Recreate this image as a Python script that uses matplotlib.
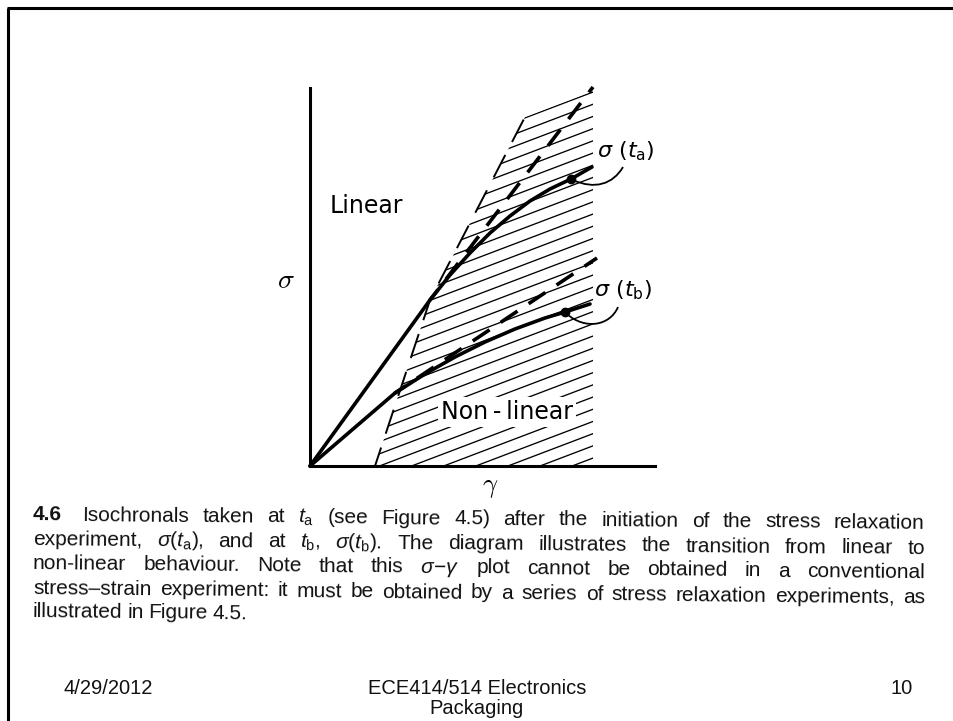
import numpy as np
import matplotlib
matplotlib.use('Agg')
import matplotlib.pyplot as plt
from matplotlib.patches import Polygon, PathPatch
from matplotlib.path import Path

# isochronal at t_a : linear part, extrapolated (dashed) and real curve
lin_a_x = [0, 120]
lin_a_y = [0, 166]
dash_a_x = [120, 283]
dash_a_y = [166, 379]
curve_a_x = [120, 140, 160, 180, 200, 220, 240, 261, 282]
curve_a_y = [166, 191, 213, 233, 250, 265, 277, 287, 299]
dot_a = (261, 287)

# isochronal at t_b
lin_b_x = [0, 85]
lin_b_y = [0, 73]
dash_b_x = [85, 287]
dash_b_y = [73, 208]
curve_b_x = [85, 115, 145, 175, 205, 235, 255, 280]
curve_b_y = [73, 92, 109, 124, 137, 148, 154, 162]
dot_b = (255, 154)

# hatched non-linear zone (left edge, top, right edge)
zone_x = [65, 120, 215, 283, 283]
zone_y = [0, 166, 349, 375, 0]

caption_lines = [
    ["4.6", "Isochronals", "taken", "at", r"$t_{\rm a}$", "(see", "Figure", "4.5)",
     "after", "the", "initiation", "of", "the", "stress", "relaxation"],
    ["experiment,", r"$\sigma(t_{\rm a})$,", "and", "at", r"$t_{\rm b}$,",
     r"$\sigma(t_{\rm b})$.", "The", "diagram", "illustrates", "the", "transition",
     "from", "linear", "to"],
    ["non-linear", "behaviour.", "Note", "that", "this", r"$\sigma\!-\!\gamma$", "plot",
     "cannot", "be", "obtained", "in", "a", "conventional"],
    ["stress\u2013strain", "experiment:", "it", "must", "be", "obtained", "by", "a",
     "series", "of", "stress", "relaxation", "experiments,", "as"],
    ["illustrated", "in", "Figure", "4.5."],
]
caption_base = [520, 545, 569, 594, 617]

cap_font, cap_size = 'Liberation Sans', 15

plt.rcParams['mathtext.fontset'] = 'custom'
plt.rcParams['mathtext.rm'] = cap_font
plt.rcParams['mathtext.it'] = cap_font + ':italic'
plt.rcParams['mathtext.bf'] = cap_font + ':bold'

fig = plt.figure(figsize=(9.54, 7.21), dpi=100, facecolor='white')

# page layer in pixel units for the frame, caption and footer
page = fig.add_axes([0, 0, 1, 1])
page.set_xlim(0, 954)
page.set_ylim(721, 0)
page.set_axis_off()
page.plot([7, 954], [8, 8], color='k', lw=2.2, solid_capstyle='butt')
page.plot([8, 8], [8, 721], color='k', lw=2.2, solid_capstyle='butt')

foot = dict(family='Liberation Sans', fontsize=14.5, color='#111111', va='center')
page.text(64, 688, '4/29/2012', ha='left', **foot)
page.text(477, 688, 'ECE414/514 Electronics', ha='center', **foot)
page.text(477, 709, 'Packaging', ha='center', **foot)
page.text(913, 688, '10', ha='right', **foot)

# diagram
ax = fig.add_axes([310 / 954, (721 - 466) / 721, 345 / 954, 378 / 721])
ax.set_xlim(0, 345)
ax.set_ylim(0, 378)
ax.set_facecolor('none')
ax.set_xticks([])
ax.set_yticks([])
for s in ['top', 'right']:
    ax.spines[s].set_visible(False)
for s in ['left', 'bottom']:
    ax.spines[s].set_linewidth(2.2)

zone = Polygon(np.column_stack([zone_x, zone_y]), closed=True,
               facecolor='none', edgecolor='none')
ax.add_patch(zone)

slope, step = 0.38, 12.2
for k in range(45):
    y0 = zone_y[2] - 0.9 - k * step
    ln, = ax.plot([0, 345], [y0 - slope * 215, y0 + slope * 130],
                  color='k', lw=0.95)
    ln.set_clip_path(zone)

ax.plot(zone_x[:3], zone_y[:3], color='k', lw=1.4,
        ls=(3, (13, 7.5)), clip_on=False)

thick = dict(color='k', lw=2.6, clip_on=False, solid_capstyle='round')
dashed = dict(color='k', lw=2.6, clip_on=False, ls=(2, (5.6, 3.7)))
ax.plot(lin_a_x, lin_a_y, **thick)
ax.plot(curve_a_x, curve_a_y, **thick)
ax.plot(dash_a_x, dash_a_y, **dashed)
ax.plot(lin_b_x, lin_b_y, **thick)
ax.plot(curve_b_x, curve_b_y, **thick)
ax.plot(dash_b_x, dash_b_y, **dashed)
ax.plot(*dot_a, 'o', color='k', ms=6, clip_on=False)
ax.plot(*dot_b, 'o', color='k', ms=6, clip_on=False)

for verts in ([(313, 299), (303, 282), (285, 276), (263, 286)],
              [(308, 159), (300, 140), (275, 136), (257, 152)]):
    path = Path(verts, [Path.MOVETO, Path.CURVE4, Path.CURVE4, Path.CURVE4])
    ax.add_patch(PathPatch(path, facecolor='none', edgecolor='k', lw=1.3,
                           clip_on=False))

lab = dict(fontsize=16, ha='left', va='center', math_fontfamily='dejavusans')
ax.text(287, 315, r'$\sigma\ (t_{\rm a})$', **lab)
ax.text(284, 176, r'$\sigma\ (t_{\rm b})$', **lab)

ax.text(20, 260, 'Linear', fontsize=17, family='DejaVu Sans',
        ha='left', va='center')
ax.text(197, 54, 'Non\u2009-\u2009linear', fontsize=17, family='DejaVu Sans',
        ha='center', va='center', zorder=4,
        bbox=dict(facecolor='white', edgecolor='none', pad=2))

ax.text(-24, 186, r'$\sigma$', fontsize=20, math_fontfamily='cm',
        ha='center', va='center', clip_on=False)
ax.text(180, -21, r'$\gamma$', fontsize=19, math_fontfamily='cm',
        ha='center', va='center', clip_on=False)

# caption: words placed one by one so that full lines are justified
tilt = -0.58
left, right = 33, 925
rows = []
for li, words in enumerate(caption_lines):
    row = []
    for wi, w in enumerate(words):
        weight = 'bold' if (li == 0 and wi == 0) else 'normal'
        t = page.text(0, 0, w, family=cap_font, fontsize=cap_size,
                      fontweight=weight, ha='left', va='baseline',
                      rotation=tilt, rotation_mode='anchor', color='#111111')
        row.append(t)
    rows.append(row)

fig.canvas.draw()
renderer = fig.canvas.get_renderer()
tan = np.tan(np.radians(-tilt))
for li, row in enumerate(rows):
    widths = [t.get_window_extent(renderer).width for t in row]
    if li == 0:
        widths[0] += 7
    if li < len(rows) - 1:
        gap = (right - left - sum(widths)) / (len(row) - 1)
    else:
        gap = cap_size * 0.3
    x = left
    for t, w in zip(row, widths):
        t.set_position((x, caption_base[li] + (x - left) * tan))
        x += w + gap

fig.savefig('out.png', dpi=100, facecolor='white')
